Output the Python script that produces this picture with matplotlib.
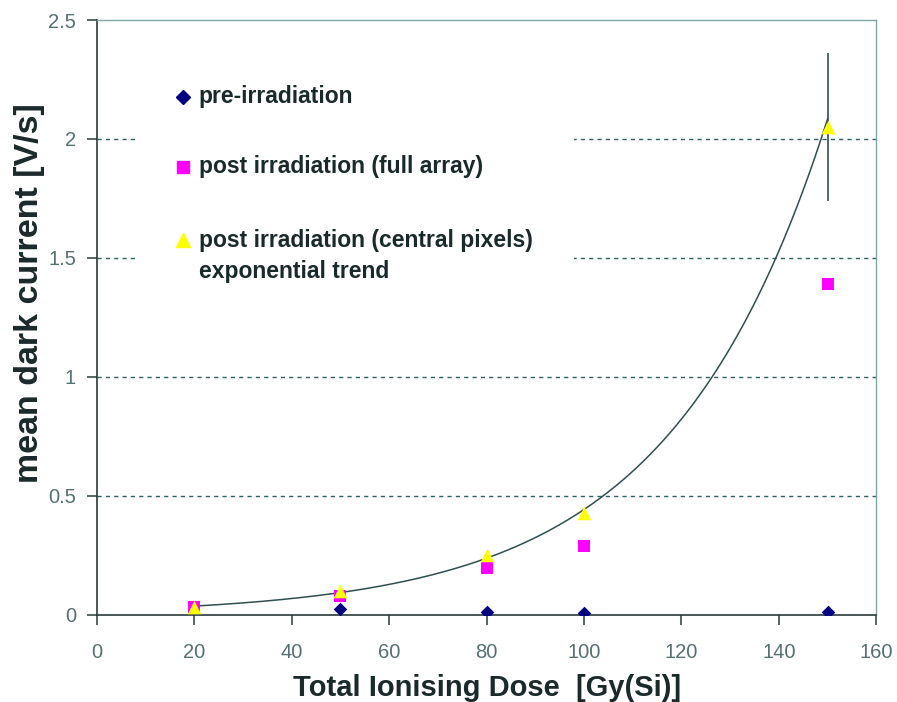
import numpy as np
import matplotlib
matplotlib.use("Agg")
import matplotlib.pyplot as plt
from matplotlib.patches import Rectangle

# ---- data ----
dose_pre = [50, 80, 100, 150]
pre_irr = [0.025, 0.012, 0.010, 0.012]

dose_post = [20, 50, 80, 100, 150]
post_full = [0.034, 0.078, 0.197, 0.290, 1.39]
post_central = [0.035, 0.100, 0.250, 0.430, 2.05]

err_dose = [150]
err_value = [2.05]
err_size = [0.31]

x_ticks = [0, 20, 40, 60, 80, 100, 120, 140, 160]
y_ticks = [0, 0.5, 1, 1.5, 2, 2.5]
y_tick_labels = ["0", "0.5", "1", "1.5", "2", "2.5"]

legend_labels = ["pre-irradiation", "post irradiation (full array)",
                 "post irradiation (central pixels)", "exponential trend"]

# ---- exponential trend fitted to central pixels ----
b, ln_a = np.polyfit(dose_post, np.log(post_central), 1)
xt = np.linspace(min(dose_post), max(dose_post), 300)
yt = np.exp(ln_a) * np.exp(b * xt)

plt.rcParams['font.family'] = ['Liberation Sans', 'DejaVu Sans']

fig = plt.figure(figsize=(8.97, 7.02), dpi=100)
ax = fig.add_axes([0.108, 0.124, 0.869, 0.8475])

ax.set_xlim(0, 160)
ax.set_ylim(0, 2.5)

# grid
for yv in y_ticks[1:-1]:
    ax.axhline(yv, color='#2f5f5f', lw=1.0, ls=(0, (3, 3)), zorder=1)

ax.plot(xt, yt, color='#2f4f4f', lw=1.1, zorder=3)

ax.errorbar(err_dose, err_value, yerr=err_size, fmt='none', ecolor='#2f4f4f',
            elinewidth=1.2, capsize=0, zorder=3)

ax.scatter(dose_post, post_full, marker='s', s=70, color='#ff00ff', zorder=4, linewidths=0)
ax.scatter(dose_post, post_central, marker='^', s=95, color='#ffff00', zorder=5, linewidths=0)
ax.scatter(dose_pre, pre_irr, marker='D', s=48, color='#000080', zorder=6, linewidths=0)

# spines
for s in ['top', 'right']:
    ax.spines[s].set_color('#7fa5a5')
    ax.spines[s].set_linewidth(1.0)
for s in ['left', 'bottom']:
    ax.spines[s].set_color('#2a3a3a')
    ax.spines[s].set_linewidth(1.2)

ax.set_xticks(x_ticks)
ax.set_yticks(y_ticks)
ax.set_yticklabels(y_tick_labels)
ax.tick_params(axis='both', direction='out', length=7, width=1.1, color='#2a3a3a',
               labelsize=14.5, labelcolor='#557070')
ax.tick_params(axis='x', pad=13)
ax.tick_params(axis='y', pad=8)

ax.set_xlabel("Total Ionising Dose  [Gy(Si)]", fontsize=21, fontweight='bold',
              color='#1a2a2a', labelpad=9)
ax.set_ylabel("mean dark current [V/s]", fontsize=24.5, fontweight='bold',
              color='#1a2a2a')
ax.yaxis.set_label_coords(-0.066, 0.541)

# legend (manual, white box covering grid)
ax.add_patch(Rectangle((0.052, 0.53), 0.56, 0.40, transform=ax.transAxes,
                       facecolor='white', edgecolor='none', zorder=2))

tr = ax.transAxes
lx = 0.110
tx = 0.1305
rows = [0.8706, 0.753, 0.630]
ax.plot([lx], [rows[0]], marker='D', ms=7, color='#000080', transform=tr, ls='none', zorder=7)
ax.plot([lx], [rows[1]], marker='s', ms=9, color='#ff00ff', transform=tr, ls='none', zorder=7)
ax.plot([lx], [rows[2]], marker='^', ms=10, color='#ffff00', transform=tr, ls='none', zorder=7)
for yv, lab in zip(rows, legend_labels[:3]):
    ax.text(tx, yv, lab, transform=tr, fontsize=16.5, fontweight='bold',
            color='#1a2a2a', va='center', ha='left', zorder=7)
ax.text(tx, 0.578, legend_labels[3], transform=tr, fontsize=16.5, fontweight='bold',
        color='#1a2a2a', va='center', ha='left', zorder=7)

fig.savefig("out.png", dpi=100)
